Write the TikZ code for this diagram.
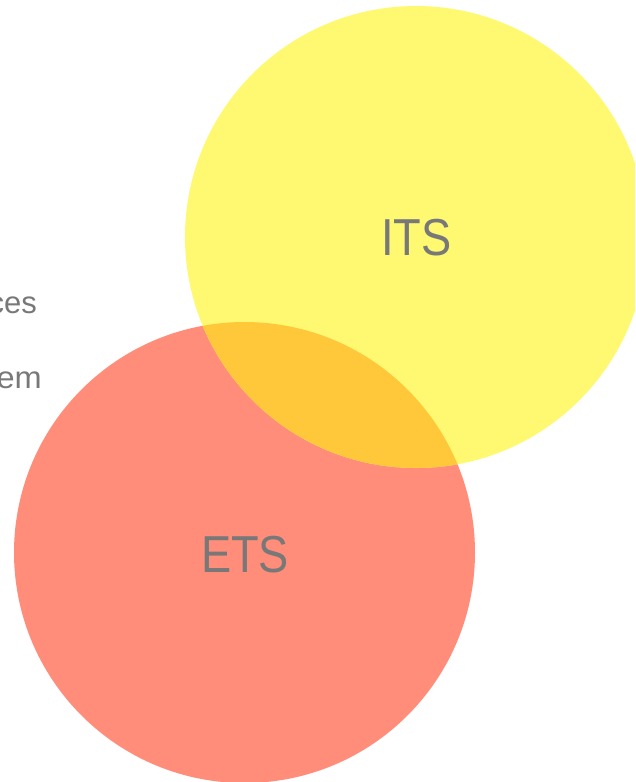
\documentclass[tikz,border=0pt]{standalone}
\usepackage{fontspec}
\setmainfont{Liberation Sans}
\definecolor{ylw}{HTML}{FFF871}
\definecolor{rd}{HTML}{FF8D7A}
\definecolor{ovl}{HTML}{FFC73A}
\definecolor{txt}{HTML}{787878}
\begin{document}
\begin{tikzpicture}[x=1pt,y=-1pt,
  lbl/.style={text=txt,font=\fontsize{52}{60}\selectfont,inner sep=0pt,anchor=base},
  side/.style={text=txt,font=\fontsize{31}{36}\selectfont,inner sep=0pt,anchor=base east}]
\useasboundingbox (0,0) rectangle (635,782);
\begin{scope}
\clip (0,0) rectangle (635,782);
\fill[rd] (244.5,552.5) circle (230.5);
\fill[ylw] (416,237) circle (231);
\begin{scope}
\clip (244.5,552.5) circle (230.5);
\fill[ovl] (416,237) circle (231);
\end{scope}
\end{scope}
\node[lbl] (its) at (416.5,255) {\scalebox{0.87}[1]{ITS}};
\node[lbl] (ets) at (245,572) {\scalebox{0.87}[1]{ETS}};
\node[side] (ces) at (37,313) {ces};
\node[side] (em) at (42,388) {\scalebox{1.05}[1]{em}};
\end{tikzpicture}
\end{document}
